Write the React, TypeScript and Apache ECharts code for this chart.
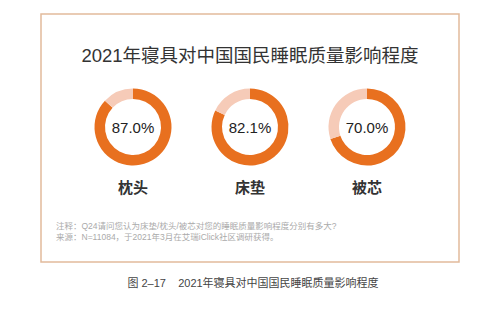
import React, { useEffect, useRef } from "react";
import * as echarts from "echarts";

const categories = ["枕头", "床垫", "被芯"];
const values = [87.0, 82.1, 70.0];
const titleText = "2021年寝具对中国国民睡眠质量影响程度";
const noteLines = [
  "注释：Q24请问您认为床垫/枕头/被芯对您的睡眠质量影响程度分别有多大?",
  "来源：N=11084，于2021年3月在艾瑞iClick社区调研获得。",
];
const captionText = "图 2–17    2021年寝具对中国国民睡眠质量影响程度";

const FONT = "'Liberation Sans', 'Noto Sans CJK SC', sans-serif";
const centersX = [133, 250, 367];
const centerY = 127;

export default function App() {
  const ref = useRef<HTMLDivElement>(null);
  useEffect(() => {
    if (!ref.current) return;
    const chart = echarts.init(ref.current, undefined, { renderer: "svg" });
    const series = categories.map((c, i) => ({
      type: "pie",
      name: c,
      center: [centersX[i], centerY],
      radius: [28, 38.5],
      startAngle: 90,
      clockwise: true,
      silent: true,
      label: { show: false },
      labelLine: { show: false },
      data: [
        {
          value: values[i],
          itemStyle: { color: "#e8701f" },
          label: {
            show: true,
            position: "center",
            formatter: values[i].toFixed(1) + "%",
            fontSize: 15,
            color: "#222",
            fontFamily: FONT,
          },
        },
        { value: +(100 - values[i]).toFixed(1), itemStyle: { color: "#f6cbb8" } },
      ],
    }));
    const graphic: any[] = [
      {
        type: "rect",
        shape: { x: 41, y: 14, width: 418, height: 248 },
        style: { fill: "none", stroke: "#e2bb9c", lineWidth: 1.5 },
      },
      {
        type: "text",
        x: 250,
        y: 55,
        style: {
          text: titleText,
          fontSize: 18.5,
          fontWeight: "normal",
          fontFamily: FONT,
          fill: "#333333",
          align: "center",
          verticalAlign: "middle",
        },
      },
      ...categories.map((c, i) => ({
        type: "text",
        x: centersX[i],
        y: 187,
        style: {
          text: c,
          fontSize: 15,
          fontWeight: "bold",
          fontFamily: FONT,
          fill: "#333",
          align: "center",
          verticalAlign: "middle",
        },
      })),
      ...noteLines.map((t, i) => ({
        type: "text",
        x: 56,
        y: 226 + i * 11,
        style: {
          text: t,
          fontSize: 8.5,
          fontFamily: FONT,
          fill: "#aaaaaa",
          align: "left",
          verticalAlign: "middle",
        },
      })),
      {
        type: "text",
        x: 253,
        y: 283,
        style: {
          text: captionText,
          fontSize: 11,
          fontFamily: FONT,
          fill: "#444",
          align: "center",
          verticalAlign: "middle",
        },
      },
    ];
    chart.setOption({
      animation: false,
      backgroundColor: "#ffffff",
      series,
      graphic,
    });
    return () => chart.dispose();
  }, []);
  return (
    <div
      ref={ref}
      style={{ position: "fixed", left: 0, top: 0, width: 500, height: 315 }}
    />
  );
}
